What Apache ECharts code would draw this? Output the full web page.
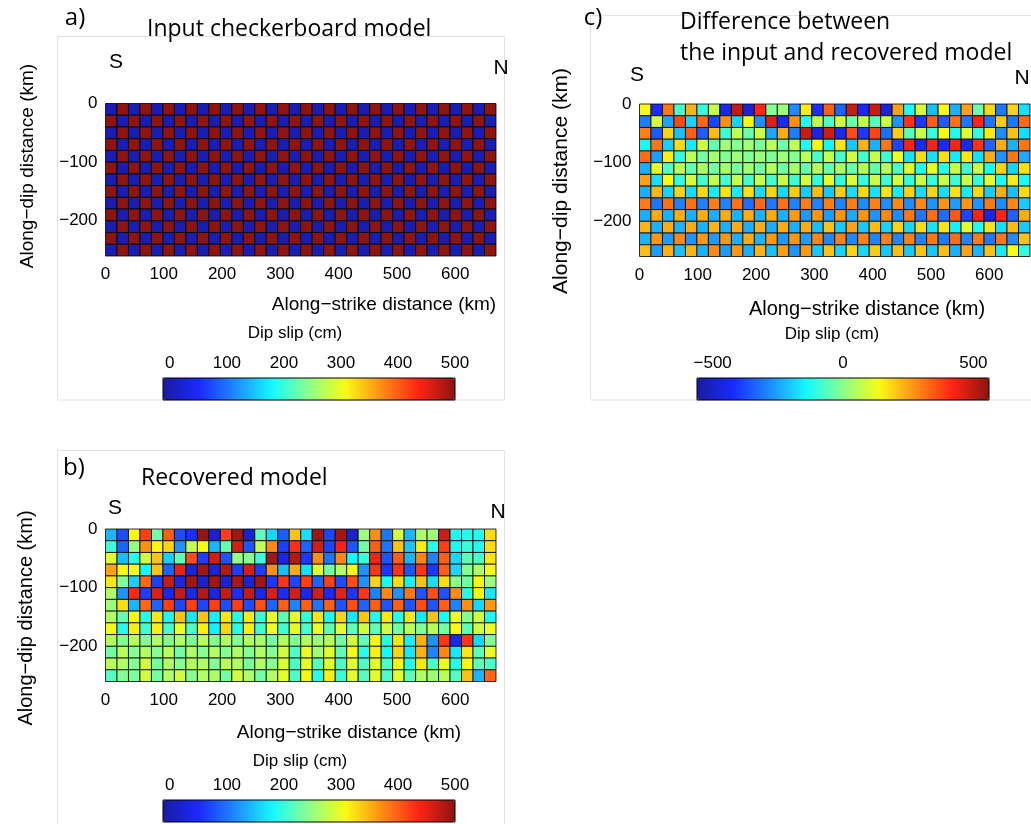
<!DOCTYPE html>
<html>
<head>
<meta charset="utf-8">
<script src="https://cdn.jsdelivr.net/npm/echarts@6/dist/echarts.min.js"></script>
<style>
  html, body { margin: 0; padding: 0; background: #fff; }
  #chart { width: 1031px; height: 824px; }
</style>
</head>
<body>
<div id="chart"></div>
<script>
// fault grid: 34 patches along strike (670 km), 13 rows down dip (20 km each)
const faultLength = 670;
const patchDip = 20;
const nCols = 34;
const cellW = faultLength / nCols;

const xTicks = [0, 100, 200, 300, 400, 500, 600];
const yTicks = [0, -100, -200];
const slipTicks = [0, 100, 200, 300, 400, 500];
const diffTicks = [-500, 0, 500];

// input checkerboard, dip slip in cm
const rowStartLow  = [0,500,0,500,0,500,0,500,0,500,0,500,0,500,0,500,0,500,0,500,0,500,0,500,0,500,0,500,0,500,0,500,0,500];
const rowStartHigh = [500,0,500,0,500,0,500,0,500,0,500,0,500,0,500,0,500,0,500,0,500,0,500,0,500,0,500,0,500,0,500,0,500,0];
const inputModel = [
  rowStartLow, rowStartHigh, rowStartLow, rowStartHigh, rowStartLow, rowStartHigh, rowStartLow,
  rowStartHigh, rowStartLow, rowStartHigh, rowStartLow, rowStartHigh, rowStartLow
];

// recovered model, dip slip in cm (row 0 = top, 0 to -20 km)
const recoveredModel = [
  [140,75,310,420,230,400,75,55,495,20,420,490,20,220,160,85,340, 165,490,70,490,20,255,370,100,285,140,265,255,465,185,190,190,325],
  [200,90,250,370,310,330,120,275,310,140,225,460,80,275,375,65,430, 90,460,70,440,80,230,400,100,340,150,315,190,420,185,200,190,325],
  [295,145,190,285,340,155,220,410,65,460,80,250,240,200,490,35,480, 60,370,100,375,180,200,440,80,400,140,375,110,400,160,220,210,320],
  [360,310,305,180,340,90,450,25,490,25,480,65,460,65,370,145,355, 165,295,230,265,310,120,425,60,425,80,425,60,400,160,240,265,310],
  [320,240,155,395,65,470,35,490,20,490,20,485,25,490,60,425,70, 420,90,420,75,410,120,330,180,325,175,340,165,325,240,230,310,255],
  [265,120,435,65,455,40,470,40,480,30,470,55,470,40,455,55,460, 40,460,50,450,60,425,110,375,120,385,80,410,80,370,190,310,170],
  [255,325,140,395,90,420,70,420,70,420,75,420,75,410,90,400,110, 400,100,400,80,410,90,400,80,400,80,410,80,400,110,370,160,365],
  [265,225,310,190,320,185,340,170,340,175,320,190,318,200,300,220,295, 200,320,185,330,170,340,190,320,190,320,170,340,185,300,240,285,185],
  [305,190,315,205,315,205,300,210,315,175,330,190,315,205,300,205,298, 210,300,220,295,220,285,220,285,230,270,240,270,230,310,220,285,300],
  [265,240,270,240,265,240,265,240,270,240,265,240,265,262,235,270,240, 270,255,270,230,285,220,310,190,320,175,350,120,425,40,425,160,240],
  [230,270,240,268,240,270,230,265,240,265,240,265,240,265,240,285,210, 300,255,295,220,310,190,315,180,330,170,350,110,375,170,320,220,300],
  [270,265,240,285,230,265,240,265,265,240,270,265,235,265,240,290,210, 295,215,295,210,295,210,295,210,310,190,320,210,300,190,310,220,210],
  [215,240,235,285,230,265,285,240,265,262,230,285,262,230,265,295,210, 310,190,315,200,295,215,295,210,295,220,265,255,270,215,340,140,395]
];

// panel c shows recovered minus input
const differenceModel = recoveredModel.map((row, r) => row.map((v, c) => v - inputModel[r][c]));

const jet = ['#1a1aa0', '#1a2aff', '#1e8cff', '#14faff', '#8cff8c', '#fafa14', '#ff8c14', '#ff2414', '#8e1410'];

function toCells(model) {
  const out = [];
  model.forEach((row, r) => row.forEach((v, c) => out.push([c * cellW, -r * patchDip, v])));
  return out;
}

function renderCell(params, api) {
  const p1 = api.coord([api.value(0), api.value(1)]);
  const p2 = api.coord([api.value(0) + cellW, api.value(1) - patchDip]);
  return {
    type: 'rect',
    shape: { x: p1[0], y: p1[1], width: p2[0] - p1[0], height: p2[1] - p1[1] },
    style: { fill: api.visual('color'), stroke: 'rgba(0,0,0,0.8)', lineWidth: 1 }
  };
}

const minus = v => String(v).replace('-', '\u2212');
const tickFont = { fontFamily: 'Liberation Sans', fontSize: 17, color: '#000' };

// plot areas [left, top] of each slip map, and colorbar positions
const maps = [
  { left: 105.5, top: 103.5, data: inputModel, vmin: -12, vmax: 500 },
  { left: 105.5, top: 529, data: recoveredModel, vmin: -12, vmax: 500 },
  { left: 639.5, top: 104, data: differenceModel, vmin: -560, vmax: 560 }
];
const bars = [
  { left: 163, top: 378, ticks: slipTicks },
  { left: 163, top: 800, ticks: slipTicks },
  { left: 697, top: 378, ticks: diffTicks }
];
const mapW = 390.5, mapH = 152.5;
const barW = 292, barH = 22;

const grid = [], xAxis = [], yAxis = [], series = [], visualMap = [];
maps.forEach((m, i) => {
  grid.push({ left: m.left, top: m.top, width: mapW, height: mapH });
  xAxis.push({
    type: 'value', gridIndex: i, min: 0, max: faultLength,
    axisLine: { show: false }, axisTick: { show: false }, splitLine: { show: false },
    axisLabel: Object.assign({ customValues: xTicks, margin: 10 }, tickFont)
  });
  yAxis.push({
    type: 'value', gridIndex: i, min: -260, max: 0,
    axisLine: { show: false }, axisTick: { show: false }, splitLine: { show: false },
    axisLabel: Object.assign({ customValues: yTicks, margin: 8, formatter: minus }, tickFont)
  });
  series.push({
    type: 'custom', xAxisIndex: i, yAxisIndex: i,
    renderItem: renderCell, encode: { x: 0, y: 1 },
    data: toCells(m.data), silent: true
  });
  const b = bars[i];
  visualMap.push({
    type: 'continuous', seriesIndex: i, dimension: 2,
    min: m.vmin, max: m.vmax, inRange: { color: jet },
    orient: 'horizontal', left: b.left, top: b.top,
    itemWidth: barH, itemHeight: barW, padding: 0,
    calculable: false, hoverLink: false, text: null, show: true
  });
});
bars.forEach((b, i) => {
  const gi = 3 + i;
  grid.push({ left: b.left, top: b.top, width: barW, height: barH, show: true, z: 10,
    borderColor: '#000', borderWidth: 1, backgroundColor: 'transparent' });
  xAxis.push({
    type: 'value', gridIndex: gi, position: 'top', min: maps[i].vmin, max: maps[i].vmax,
    axisLine: { show: false }, splitLine: { show: false }, axisTick: { show: false },
    axisLabel: Object.assign({ customValues: b.ticks, margin: 6, formatter: minus }, tickFont)
  });
  yAxis.push({ type: 'value', gridIndex: gi, show: false, min: 0, max: 1 });
});

function txt(text, x, y, size, family, extra, align) {
  return Object.assign({
    type: 'text', x: x, y: y, z: 20,
    style: { text: text, font: size + 'px "' + family + '"', fill: '#000', align: align || 'center', verticalAlign: 'middle' }
  }, extra || {});
}
const upright = { rotation: Math.PI / 2 };
const frame = (x, y, w, h) => ({ type: 'rect', z: 0, shape: { x: x, y: y, width: w, height: h },
  style: { fill: 'none', stroke: '#e2e2e2', lineWidth: 1 } });

const graphic = [
  frame(57.5, 36.5, 447, 363.5),
  frame(590.5, 15.5, 450, 384.5),
  frame(57.5, 450.5, 447, 380),
  txt('a)', 75, 18, 24, 'Open Sans'),
  txt('Input checkerboard model', 147, 29, 23, 'Open Sans', null, 'left'),
  txt('S', 116, 62, 21, 'Liberation Sans'),
  txt('N', 501, 68, 21, 'Liberation Sans'),
  txt('Along\u2212dip distance (km)', 28, 166, 19, 'Liberation Sans', upright),
  txt('Along\u2212strike distance (km)', 384, 305, 19, 'Liberation Sans'),
  txt('Dip slip (cm)', 295, 333, 17, 'Liberation Sans'),
  txt('c)', 593, 18, 24, 'Open Sans'),
  txt('Difference between', 680, 22, 23, 'Open Sans', null, 'left'),
  txt('the input and recovered model', 680, 53, 23, 'Open Sans', null, 'left'),
  txt('S', 637, 75, 21, 'Liberation Sans'),
  txt('N', 1022, 78, 21, 'Liberation Sans'),
  txt('Along\u2212dip distance (km)', 561, 181, 21, 'Liberation Sans', upright),
  txt('Along\u2212strike distance (km)', 867, 309, 20, 'Liberation Sans'),
  txt('Dip slip (cm)', 832, 334, 17, 'Liberation Sans'),
  txt('b)', 74, 468, 24, 'Open Sans'),
  txt('Recovered model', 141, 478, 23, 'Open Sans', null, 'left'),
  txt('S', 115, 508, 21, 'Liberation Sans'),
  txt('N', 498, 512, 21, 'Liberation Sans'),
  txt('Along\u2212dip distance (km)', 26, 618, 20, 'Liberation Sans', upright),
  txt('Along\u2212strike distance (km)', 349, 733, 19, 'Liberation Sans'),
  txt('Dip slip (cm)', 300, 761, 17, 'Liberation Sans')
];

const chart = echarts.init(document.getElementById('chart'), null, { renderer: 'canvas' });
chart.setOption({
  backgroundColor: '#fff',
  animation: false,
  grid: grid,
  xAxis: xAxis,
  yAxis: yAxis,
  visualMap: visualMap,
  series: series,
  graphic: graphic
});
</script>
</body>
</html>
